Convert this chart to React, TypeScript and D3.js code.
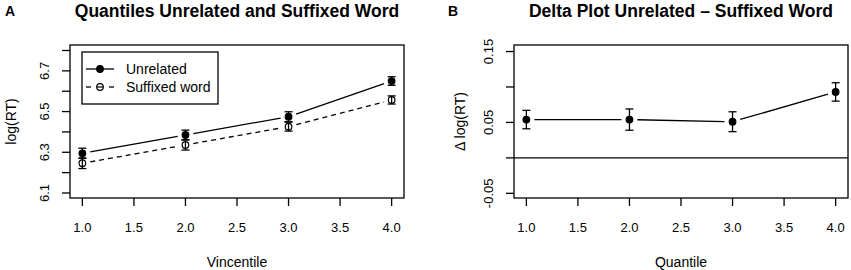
import React from "react";
import * as d3 from "d3";

const quantiles = [1, 2, 3, 4];
const unrelated = [6.295, 6.385, 6.475, 6.65];
const unrelatedErr = [0.025, 0.024, 0.024, 0.021];
const suffixed = [6.246, 6.336, 6.426, 6.557];
const suffixedErr = [0.026, 0.025, 0.022, 0.02];
const delta = [0.054, 0.054, 0.051, 0.093];
const deltaErr = [0.013, 0.015, 0.014, 0.013];
const xTicks = [1, 1.5, 2, 2.5, 3, 3.5, 4];
const yTicksA = [6.1, 6.2, 6.3, 6.4, 6.5, 6.6, 6.7, 6.8];
const yLabelsA = [6.1, 6.3, 6.5, 6.7];
const yTicksB = [-0.05, 0, 0.05, 0.1, 0.15];
const yLabelsB = [-0.05, 0.05, 0.15];

const FONT = "'Liberation Sans', Arial, Helvetica, sans-serif";

function gappedSegments(pts: [number, number][], gap: number) {
  const segs: [number, number, number, number][] = [];
  for (let i = 0; i < pts.length - 1; i++) {
    const [x1, y1] = pts[i];
    const [x2, y2] = pts[i + 1];
    const dx = x2 - x1, dy = y2 - y1;
    const len = Math.hypot(dx, dy);
    const ux = dx / len, uy = dy / len;
    segs.push([x1 + ux * gap, y1 + uy * gap, x2 - ux * gap, y2 - uy * gap]);
  }
  return segs;
}

function Series({ x, y, xs, ys, errs, filled, dashed }: any) {
  const pts: [number, number][] = xs.map((d: number, i: number) => [x(d), y(ys[i])]);
  const segs = gappedSegments(pts, 8);
  return (
    <g>
      {segs.map((s, i) => (
        <line key={"s" + i} x1={s[0]} y1={s[1]} x2={s[2]} y2={s[3]} stroke="#000" strokeWidth={1.3}
          strokeDasharray={dashed ? "5,4" : undefined} />
      ))}
      {xs.map((d: number, i: number) => {
        const cx = x(d);
        const lo = y(ys[i] - errs[i]);
        const hi = y(ys[i] + errs[i]);
        return (
          <g key={"p" + i}>
            <circle cx={cx} cy={y(ys[i])} r={3.3} fill={filled ? "#000" : "#fff"} stroke="#000" strokeWidth={1.2} />
            <line x1={cx} x2={cx} y1={lo} y2={hi} stroke="#000" strokeWidth={1.3} />
            <line x1={cx - 4} x2={cx + 4} y1={lo} y2={lo} stroke="#000" strokeWidth={1.3} />
            <line x1={cx - 4} x2={cx + 4} y1={hi} y2={hi} stroke="#000" strokeWidth={1.3} />
          </g>
        );
      })}
    </g>
  );
}

function Axes({ x, y, left, right, top, bottom, yTicks, yLabels, yFmt, xTitle, yTitle, title, letter, letterX, yLabelX, yTitleX }: any) {
  const cx = (left + right) / 2;
  return (
    <g fontFamily={FONT}>
      <rect x={left} y={top} width={right - left} height={bottom - top} fill="none" stroke="#000" strokeWidth={1.3} />
      {xTicks.map((t) => (
        <g key={"xt" + t}>
          <line x1={x(t)} x2={x(t)} y1={bottom} y2={bottom + 8} stroke="#000" strokeWidth={1.3} />
          <text x={x(t)} y={227} textAnchor="middle" dominantBaseline="central" fontSize={13}>{t.toFixed(1)}</text>
        </g>
      ))}
      {yTicks.map((t: number) => (
        <line key={"yt" + t} x1={left - 8} x2={left} y1={y(t)} y2={y(t)} stroke="#000" strokeWidth={1.3} />
      ))}
      {yLabels.map((t: number) => (
        <text key={"yl" + t} transform={`translate(${yLabelX},${y(t)}) rotate(-90)`} textAnchor="middle"
          dominantBaseline="central" fontSize={13}>{yFmt(t)}</text>
      ))}
      <text x={cx} y={262} textAnchor="middle" dominantBaseline="central" fontSize={14}>{xTitle}</text>
      <text transform={`translate(${yTitleX},${(top + bottom) / 2}) rotate(-90)`} textAnchor="middle"
        dominantBaseline="central" fontSize={14}>{yTitle}</text>
      <text x={cx} y={11} textAnchor="middle" dominantBaseline="central" fontSize={17.5} fontWeight="bold">{title}</text>
      <text x={letterX} y={11} dominantBaseline="central" fontSize={14} fontWeight="bold">{letter}</text>
    </g>
  );
}

export default function App() {
  const W = 851, H = 270;
  const top = 45, bottom = 198;

  const xA = d3.scaleLinear().domain([0.88, 4.12]).range([70, 404]);
  const yA = d3.scaleLinear().domain([6.0754, 6.827]).range([bottom, top]);
  const xB = d3.scaleLinear().domain([0.88, 4.12]).range([514, 848]);
  const yB = d3.scaleLinear().domain([-0.0566, 0.1592]).range([bottom, top]);

  return (
    <svg width={W} height={H} style={{ position: "absolute", left: 0, top: 0, background: "#fff" }}>
      <rect x={0} y={0} width={W} height={H} fill="#fff" />
      {/* Panel A */}
      <Axes x={xA} y={yA} left={70} right={404} top={top} bottom={bottom}
        yTicks={yTicksA} yLabels={yLabelsA} yFmt={(t: number) => t.toFixed(1)}
        xTitle="Vincentile" yTitle="log(RT)" title="Quantiles Unrelated and Suffixed Word"
        letter="A" letterX={5} yLabelX={44} yTitleX={11} />
      <Series x={xA} y={yA} xs={quantiles} ys={unrelated} errs={unrelatedErr} filled={true} dashed={false} />
      <Series x={xA} y={yA} xs={quantiles} ys={suffixed} errs={suffixedErr} filled={false} dashed={true} />
      {/* Legend */}
      <g fontFamily={FONT}>
        <rect x={82} y={52} width={136} height={52} fill="#fff" stroke="#000" strokeWidth={1.3} />
        <line x1={86} x2={114} y1={69} y2={69} stroke="#000" strokeWidth={1.3} />
        <circle cx={100} cy={69} r={3.3} fill="#000" stroke="#000" strokeWidth={1.2} />
        <text x={126} y={69} dominantBaseline="central" fontSize={14}>Unrelated</text>
        <line x1={86} x2={91} y1={87} y2={87} stroke="#000" strokeWidth={1.3} />
        <line x1={109} x2={114} y1={87} y2={87} stroke="#000" strokeWidth={1.3} />
        <circle cx={100} cy={87} r={3.3} fill="#fff" stroke="#000" strokeWidth={1.2} />
        <line x1={96.7} x2={103.3} y1={87} y2={87} stroke="#000" strokeWidth={1.2} />
        <text x={126} y={87} dominantBaseline="central" fontSize={14}>Suffixed word</text>
      </g>
      {/* Panel B */}
      <Axes x={xB} y={yB} left={514} right={848} top={top} bottom={bottom}
        yTicks={yTicksB} yLabels={yLabelsB} yFmt={(t: number) => t.toFixed(2)}
        xTitle="Quantile" yTitle="Δ log(RT)" title="Delta Plot Unrelated – Suffixed Word"
        letter="B" letterX={448} yLabelX={488} yTitleX={460} />
      <line x1={514} x2={848} y1={yB(0)} y2={yB(0)} stroke="#000" strokeWidth={1.3} />
      <Series x={xB} y={yB} xs={quantiles} ys={delta} errs={deltaErr} filled={true} dashed={false} />
    </svg>
  );
}
